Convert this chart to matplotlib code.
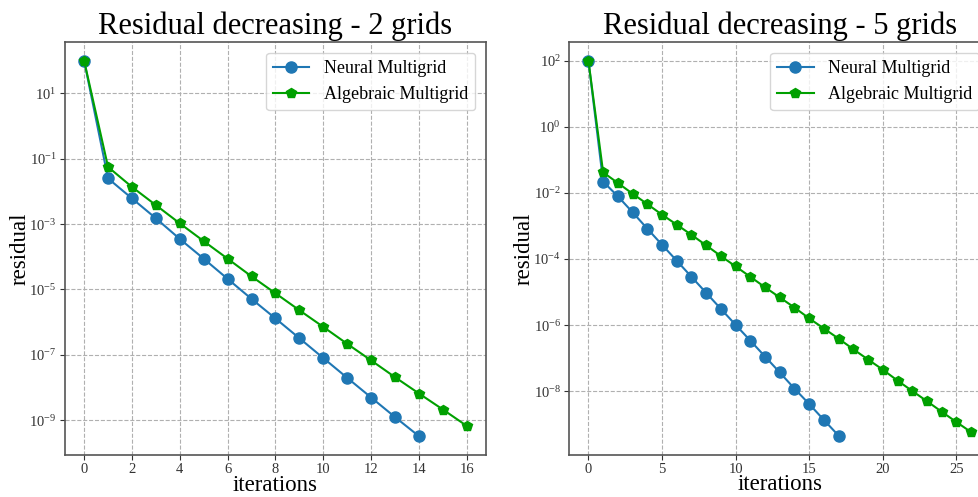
import numpy as np
import matplotlib as mpl
import matplotlib.pyplot as plt
from matplotlib.ticker import NullLocator

mpl.rcParams['font.family'] = ['Liberation Serif', 'DejaVu Serif']
mpl.rcParams['mathtext.fontset'] = 'stix'

# residuals
nmg_2 = [1e2, 2.5e-2, 6.1e-3, 1.5e-3, 3.5e-4, 8.7e-5, 2.1e-5, 5.1e-6, 1.29e-6,
         3.2e-7, 7.9e-8, 1.96e-8, 4.9e-9, 1.23e-9, 3.2e-10]
amg_2 = [1e2, 5.6e-2, 1.37e-2, 3.8e-3, 1.05e-3, 3.0e-4, 8.7e-5, 2.5e-5, 7.6e-6,
         2.3e-6, 7.1e-7, 2.15e-7, 6.7e-8, 2.05e-8, 6.5e-9, 2.1e-9, 6.6e-10]
nmg_5 = [1e2, 2.2e-2, 7.9e-3, 2.6e-3, 8.3e-4, 2.7e-4, 8.9e-5, 2.9e-5, 9.5e-6,
         3.1e-6, 1.02e-6, 3.4e-7, 1.12e-7, 3.7e-8, 1.2e-8, 4.1e-9, 1.35e-9, 4.5e-10]
amg_5 = [1e2, 4.2e-2, 2.0e-2, 9.5e-3, 4.6e-3, 2.2e-3, 1.1e-3, 5.4e-4, 2.6e-4,
         1.23e-4, 6.0e-5, 2.9e-5, 1.4e-5, 6.9e-6, 3.4e-6, 1.6e-6, 7.9e-7, 3.9e-7,
         1.86e-7, 9.1e-8, 4.5e-8, 2.1e-8, 1.02e-8, 5.0e-9, 2.4e-9, 1.17e-9, 5.8e-10]

titles = ["Residual decreasing - 2 grids", "Residual decreasing - 5 grids"]
labels = ["Neural Multigrid", "Algebraic Multigrid"]


def plot_panel(ax, nmg, amg, title, xticks, yticks):
    ax.plot(np.arange(len(nmg)), nmg, marker='o', ms=8, lw=1.5, color='#1f77b4', label=labels[0])
    ax.plot(np.arange(len(amg)), amg, marker='p', ms=7.5, lw=1.5, color='#00a000', label=labels[1])
    ax.set_yscale('log')
    ax.set_yticks(yticks)
    ax.yaxis.set_minor_locator(NullLocator())
    ax.set_xticks(xticks)
    ax.grid(True, ls='--', color='#b0b0b0', lw=0.8)
    ax.set_title(title, fontsize=22, pad=6)
    ax.set_xlabel('iterations', fontsize=16.5, labelpad=-1)
    ax.set_ylabel('residual', fontsize=16.5, labelpad=-1)
    ax.tick_params(labelsize=10.5, colors='#333333', width=0.8, pad=2.5)
    for s in ax.spines.values():
        s.set_color('#555555')
        s.set_linewidth(1.2)
    ax.legend(loc='upper right', fontsize=13, borderaxespad=0.6)


fig = plt.figure(figsize=(9.79, 4.97), dpi=100)
ax1 = fig.add_axes([0.0664, 0.0845, 0.430, 0.831])
ax2 = fig.add_axes([0.5815, 0.0855, 0.430, 0.830])

plot_panel(ax1, nmg_2, amg_2, titles[0], range(0, 17, 2), [10.0 ** k for k in range(-9, 2, 2)])
plot_panel(ax2, nmg_5, amg_5, titles[1], range(0, 26, 5), [10.0 ** k for k in range(-8, 3, 2)])

fig.savefig('out.png', dpi=100)
